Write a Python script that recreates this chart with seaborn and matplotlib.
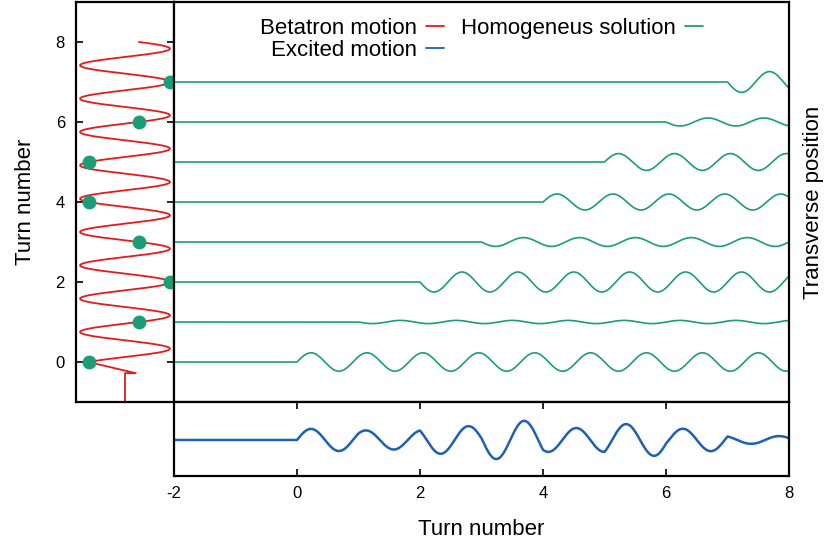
import numpy as np
import pandas as pd
import matplotlib
matplotlib.use("Agg")
import matplotlib.pyplot as plt
import seaborn as sns
from matplotlib.lines import Line2D

# Valores
kick_turns = [0, 1, 2, 3, 4, 5, 6, 7]
kick_amplitudes = [0.23, -0.04, -0.25, -0.11, 0.20, 0.21, -0.10, -0.26]
homogeneous_frequency = 1.1      # oscilações por volta no painel principal
betatron_tune = 1.2              # oscilações por volta no painel da esquerda
betatron_peak_turn = 2.0         # volta em que o betatron toca a borda direita
injection_pos = [0.0, 0.0, 0.24]
injection_turn = [-1.0, -0.28, -0.28]
y_ticks = [0, 2, 4, 6, 8]
x_ticks = [-2, 0, 2, 4, 6, 8]

RED = "#e41a1c"
GREEN = "#1b9e77"
BLUE = "#1f5fb4"

sns.set_theme(style="ticks")
plt.rcParams["font.family"] = ["Liberation Sans", "DejaVu Sans"]
plt.rcParams["axes.unicode_minus"] = False
plt.rcParams["axes.linewidth"] = 1.6
for k in ("text.color", "axes.labelcolor", "xtick.color", "ytick.color",
          "axes.edgecolor"):
    plt.rcParams[k] = "black"

# Soluções homogêneas: uma por volta, começando na própria volta
x = np.linspace(-2, 8, 2001)
partes = []
excited = np.zeros_like(x)
for n, a in zip(kick_turns, kick_amplitudes):
    resp = a * np.sin(2 * np.pi * homogeneous_frequency * (x - n)) * (x >= n)
    excited += resp
    partes.append(pd.DataFrame({"x": x, "y": n + resp, "kick": n}))
df_homog = pd.concat(partes, ignore_index=True)
df_excited = pd.DataFrame({"x": x, "y": excited})

# Movimento de betatron (vertical, no painel da esquerda)
t = np.linspace(0, 8, 1201)
pos = np.cos(2 * np.pi * betatron_tune * (t - betatron_peak_turn))
df_beta = pd.DataFrame({
    "pos": np.concatenate([injection_pos, pos]),
    "turn": np.concatenate([injection_turn, t]),
})
df_dots = pd.DataFrame({
    "turn": kick_turns,
    "pos": np.cos(2 * np.pi * betatron_tune * (np.array(kick_turns) - betatron_peak_turn)),
})

fig = plt.figure(figsize=(8.27, 5.48), dpi=100)
ax_left = fig.add_axes([0.0919, 0.2664, 0.1185, 0.730])
ax_main = fig.add_axes([0.2104, 0.2664, 0.7437, 0.730])
ax_bot = fig.add_axes([0.2104, 0.1314, 0.7437, 0.135])

# painel esquerdo
sns.lineplot(data=df_beta, x="pos", y="turn", sort=False, estimator=None,
             color=RED, linewidth=1.3, ax=ax_left)
sns.scatterplot(data=df_dots, x="pos", y="turn", color=GREEN, s=100,
                edgecolor=GREEN, linewidth=0, zorder=5, clip_on=False, ax=ax_left)
ax_left.set_xlim(-1.09, 1.09)
ax_left.set_ylim(-1, 9)
ax_left.set_xticks([])
ax_left.set_yticks(y_ticks)
ax_left.tick_params(axis="y", direction="in", length=5, width=1.2,
                    left=True, right=True, labelsize=12, pad=8)
ax_left.set_xlabel("")
ax_left.set_ylabel("Turn number", fontsize=16, labelpad=14)

# painel principal
sns.lineplot(data=df_homog, x="x", y="y", units="kick", estimator=None,
             color=GREEN, linewidth=1.2, ax=ax_main)
ax_main.set_xlim(-2, 8)
ax_main.set_ylim(-1, 9)
ax_main.set_xticks([])
ax_main.set_yticks([])
ax_main.set_xlabel("")
ax_main.yaxis.set_label_position("right")
ax_main.set_ylabel("Transverse position", fontsize=16, labelpad=10)

handles = [Line2D([], [], color=RED, lw=1.3),
           Line2D([], [], color=BLUE, lw=1.3),
           Line2D([], [], color=GREEN, lw=1.3)]
labels = ["Betatron motion", "Excited motion", "Homogeneus solution"]
ax_main.legend(handles, labels, ncol=2, markerfirst=False, frameon=False,
               loc="upper center", bbox_to_anchor=(0.5, 1.0), fontsize=16,
               handlelength=0.8, handletextpad=0.4, columnspacing=0.8,
               labelspacing=0.05, borderaxespad=0.3)

# painel de baixo
sns.lineplot(data=df_excited, x="x", y="y", color=BLUE, linewidth=1.8, ax=ax_bot)
ax_bot.set_xlim(-2, 8)
ax_bot.set_ylim(-0.75, 0.79)
ax_bot.set_yticks([])
ax_bot.set_xticks(x_ticks)
ax_bot.tick_params(axis="x", direction="in", length=5, width=1.2,
                   top=True, bottom=True, labelsize=12, pad=7)
ax_bot.set_ylabel("")
ax_bot.set_xlabel("Turn number", fontsize=16, labelpad=13)

for ax in (ax_left, ax_main, ax_bot):
    for s in ax.spines.values():
        s.set_visible(True)
        s.set_color("black")
        s.set_linewidth(1.6)

fig.savefig("out.png", dpi=100)
